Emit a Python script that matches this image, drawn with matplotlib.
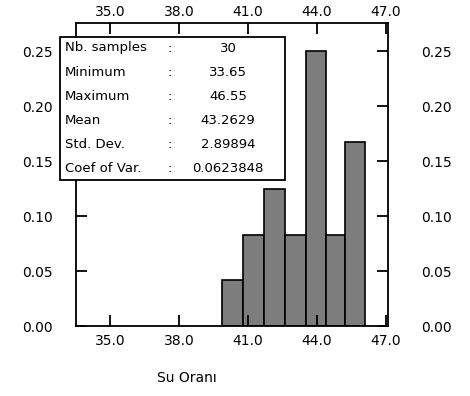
import numpy as np
import matplotlib.pyplot as plt
from matplotlib.patches import Rectangle

plt.rcParams['font.family'] = ['DejaVu Sans']

# histogram (relative frequencies)
bin_edges = [39.85, 40.76, 41.68, 42.59, 43.51, 44.39, 45.22, 46.09]
freqs = [0.042, 0.083, 0.125, 0.083, 0.25, 0.083, 0.167]

x_ticks = [35.0, 38.0, 41.0, 44.0, 47.0]
y_ticks = [0.00, 0.05, 0.10, 0.15, 0.20, 0.25]

stat_labels = ["Nb. samples", "Minimum", "Maximum",
               "Mean", "Std. Dev.", "Coef of Var."]
stat_values = ["30", "33.65", "46.55", "43.2629", "2.89894", "0.0623848"]

W, H = 470, 396
fig = plt.figure(figsize=(W / 100, H / 100), dpi=100)
ax = fig.add_axes([76 / W, 1 - 326 / H, (388 - 76) / W, (326 - 23) / H])

ax.bar(bin_edges[:-1], freqs, width=np.diff(bin_edges), align='edge',
       color='#7d7d7d', edgecolor='black', linewidth=1.2)

ax.set_xlim(33.5, 47.1)
ax.set_ylim(0, 0.2755)
ax.set_xticks(x_ticks)
ax.set_xticklabels([f'{v:.1f}' for v in x_ticks])
ax.set_yticks(y_ticks)
ax.set_yticklabels([f'{v:.2f}' for v in y_ticks])

for s in ax.spines.values():
    s.set_linewidth(1.3)
ax.tick_params(axis='both', direction='in', length=8, width=1.3,
               top=True, right=True, labelsize=10)
ax.tick_params(axis='x', pad=6)
ax.tick_params(axis='y', pad=17)

# separate top/right labels so they get their own spacing
top = ax.secondary_xaxis('top')
top.set_xticks(x_ticks)
top.set_xticklabels([f'{v:.1f}' for v in x_ticks])
top.tick_params(direction='in', length=0, pad=3, labelsize=10)
top.spines['top'].set_visible(False)

right = ax.secondary_yaxis('right')
right.set_yticks(y_ticks)
right.set_yticklabels([f'{v:.2f}' for v in y_ticks])
right.tick_params(direction='in', length=0, pad=24, labelsize=10)
right.spines['right'].set_visible(False)

# statistics box, drawn in figure pixels (it sticks out past the left axis)
def fx(px):
    return px / W

def fy(py):
    return 1 - py / H

box = Rectangle((fx(60), fy(180)), fx(285) - fx(60), fy(37) - fy(180),
                transform=fig.transFigure, facecolor='white',
                edgecolor='black', linewidth=1.3, zorder=5)
fig.add_artist(box)
for i, (lab, val) in enumerate(zip(stat_labels, stat_values)):
    y = fy(48 + i * 24)
    fig.text(fx(65), y, lab, ha='left', va='center', fontsize=9.5, zorder=6)
    fig.text(fx(170), y, ':', ha='center', va='center', fontsize=9.5, zorder=6)
    fig.text(fx(228), y, val, ha='center', va='center', fontsize=9.5, zorder=6)

fig.text(fx(187), fy(378), 'Su Oranı', ha='center', va='center', fontsize=10)

fig.savefig('out.png', dpi=100)
